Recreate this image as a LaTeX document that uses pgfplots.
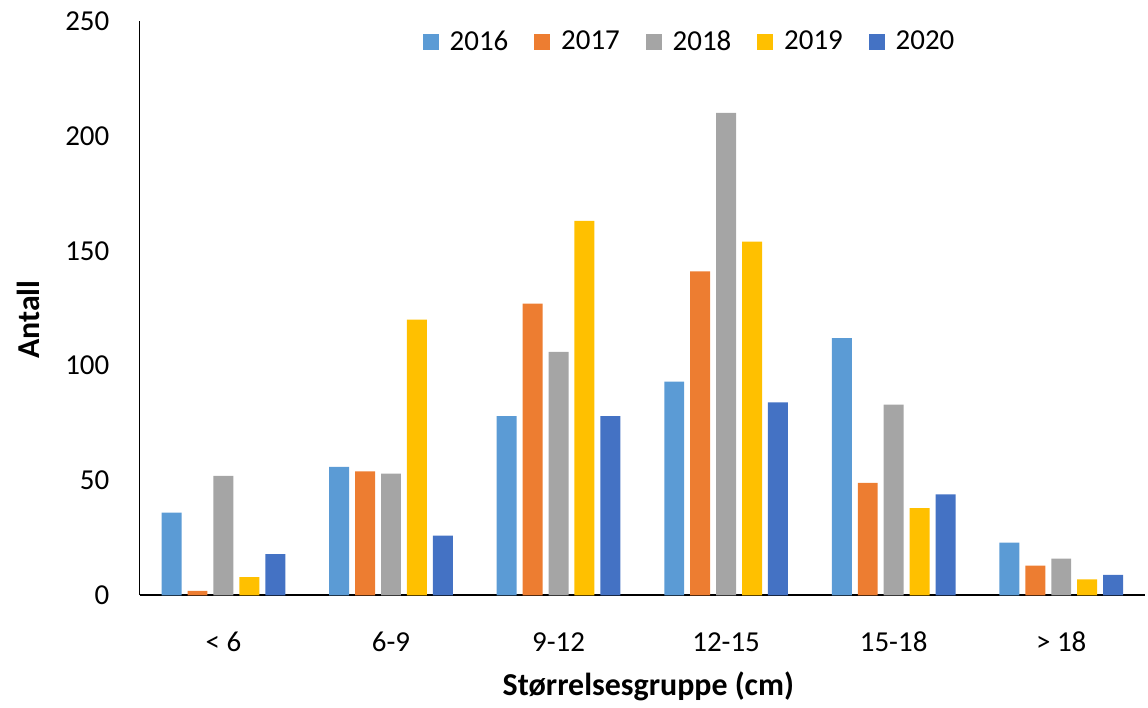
\documentclass[border=0pt]{standalone}
\usepackage{pgfplots}
\usepackage{pgfplotstable}
\usepackage{fontspec}
\setmainfont{Carlito}
\pgfplotsset{compat=1.18}

\definecolor{c2016}{HTML}{5B9BD5}
\definecolor{c2017}{HTML}{ED7D31}
\definecolor{c2018}{HTML}{A5A5A5}
\definecolor{c2019}{HTML}{FFC000}
\definecolor{c2020}{HTML}{4472C4}

\pgfplotstableread{
x  a2016 a2017 a2018 a2019 a2020
0  36    2     52    8     18
1  56    54    53    120   26
2  78    127   106   163   78
3  93    141   210   154   84
4  112   49    83    38    44
5  23    13    16    7     9
}\sizedata

\begin{document}
\begin{tikzpicture}
\begin{axis}[
    name=ax,
    scale only axis,
    width=504pt, height=288pt,
    ybar=3pt,
    bar width=10pt,
    xmin=-0.5, xmax=5.5,
    ymin=0, ymax=250,
    enlargelimits=false,
    axis x line*=bottom,
    axis y line*=left,
    x axis line style={line width=1pt, -},
    y axis line style={line width=0.8pt, -},
    major tick length=0pt,
    xtick={0,1,2,3,4,5},
    xticklabels={{< 6},{6-9},{9-12},{12-15},{15-18},{> 18}},
    ytick={0,50,100,150,200,250},
    x tick label style={font=\fontsize{14.5}{16}\selectfont, anchor=base, yshift=-28pt},
    y tick label style={font=\fontsize{14.5}{16}\selectfont, anchor=east, inner sep=0pt, xshift=-15pt},
    /pgf/number format/assume math mode=true,
    xlabel={\textbf{Størrelsesgruppe (cm)}},
    ylabel={\textbf{Antall}},
    every axis x label/.style={at={(axis description cs:0.506,0)}, yshift=-45.5pt, anchor=center, font=\fontsize{16}{18}\selectfont},
    every axis y label/.style={at={(axis description cs:0,0.48)}, xshift=-56pt, anchor=center, rotate=90, font=\fontsize{16}{18}\selectfont},
    legend image code/.code={\fill[#1,draw=none] (0pt,-4pt) rectangle (8pt,4pt);},
    legend columns=5,
    legend style={at={(axis description cs:0.546,0.9635)}, anchor=center, draw=none, fill=none,
        font=\fontsize{14.5}{16}\selectfont,
        nodes={inner sep=0pt},
        /tikz/every odd column/.append style={column sep=5.5pt},
        /tikz/every even column/.append style={column sep=13pt}},
]
\addplot[fill=c2016, draw=none] table[x=x, y=a2016] {\sizedata};
\addplot[fill=c2017, draw=none] table[x=x, y=a2017] {\sizedata};
\addplot[fill=c2018, draw=none] table[x=x, y=a2018] {\sizedata};
\addplot[fill=c2019, draw=none] table[x=x, y=a2019] {\sizedata};
\addplot[fill=c2020, draw=none] table[x=x, y=a2020] {\sizedata};
\legend{2016,2017,2018,2019,2020}
\end{axis}
\path (ax.south west) ++(-70pt,-53.5pt) coordinate (bl);
\path (ax.north east) ++(1.5pt,10.5pt) coordinate (tr);
\path (bl) rectangle (tr);
\end{tikzpicture}
\end{document}
